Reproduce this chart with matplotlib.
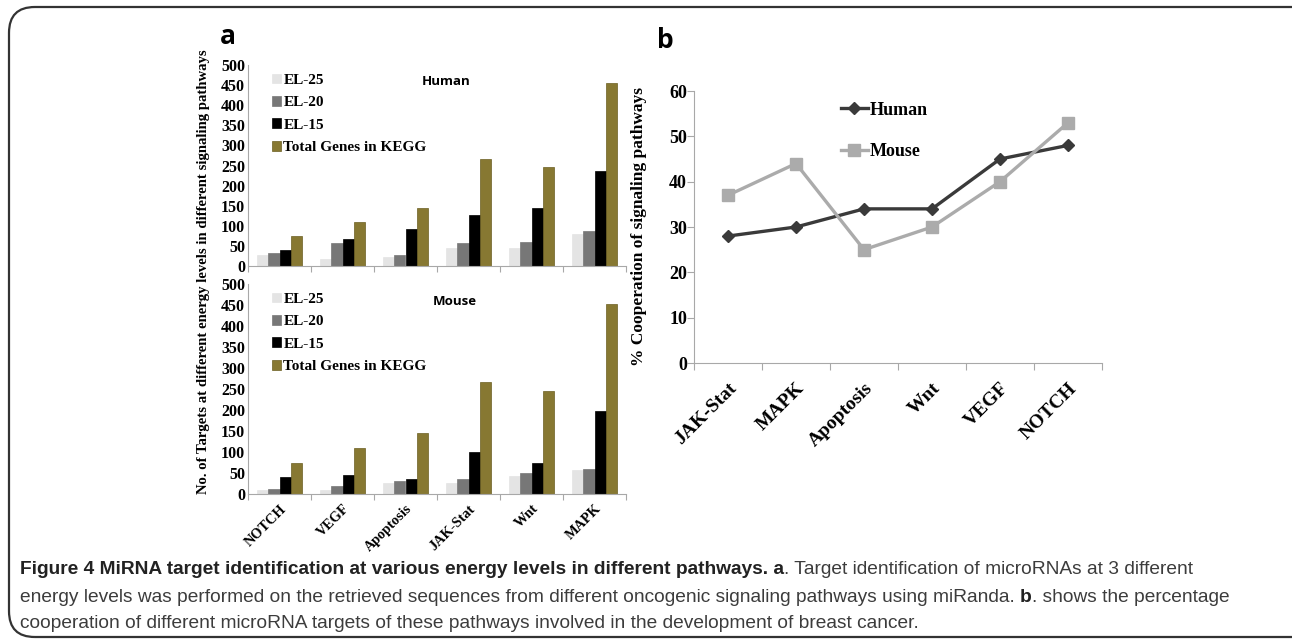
import numpy as np
import matplotlib
matplotlib.use('Agg')
import matplotlib.pyplot as plt
from matplotlib.patches import FancyBboxPatch

# panel a data
paths_a = ['NOTCH', 'VEGF', 'Apoptosis', 'JAK-Stat', 'Wnt', 'MAPK']
series = ['EL-25', 'EL-20', 'EL-15', 'Total Genes in KEGG']
human_el25 = [28, 18, 22, 45, 46, 80]
human_el20 = [33, 58, 28, 57, 60, 86]
human_el15 = [40, 67, 92, 126, 144, 237]
human_total = [75, 110, 145, 266, 247, 454]
mouse_el25 = [10, 10, 27, 26, 44, 57]
mouse_el20 = [13, 18, 30, 35, 50, 60]
mouse_el15 = [40, 45, 36, 99, 73, 197]
mouse_total = [75, 110, 145, 266, 246, 452]

# panel b data
paths_b = ['JAK-Stat', 'MAPK', 'Apoptosis', 'Wnt', 'VEGF', 'NOTCH']
coop_human = [28, 30, 34, 34, 45, 48]
coop_mouse = [37, 44, 25, 30, 40, 53]

bar_cols = ['#e4e4e4', '#777777', '#000000', '#877832']
spine_col = '#a8a8a8'
serif = ['Liberation Serif', 'DejaVu Serif']

W, H = 1292, 642
fig = plt.figure(figsize=(W / 100, H / 100), dpi=100)

# rounded border
fig.patches.append(FancyBboxPatch((9 / W, 5 / H), (W + 20) / W, 630 / H,
                                  boxstyle='round,pad=0,rounding_size=0.02',
                                  transform=fig.transFigure, fill=False,
                                  edgecolor='#333333', linewidth=1.6,
                                  mutation_aspect=W / H))


def fx(px):
  return px / W


def fy(py):
  return 1 - py / H


def bar_panel(ax, vals, title, tx):
  x = np.arange(len(paths_a))
  bw = 0.18
  for i, v in enumerate(vals):
    ax.bar(x + (i - 1.5) * bw, v, bw, color=bar_cols[i], label=series[i],
           edgecolor=bar_cols[i] if i != 3 else '#6b5e22', linewidth=0.5)
  ax.set_xlim(-0.5, len(paths_a) - 0.5)
  ax.set_ylim(0, 500)
  ax.set_yticks(range(0, 501, 50))
  for lab in ax.get_yticklabels():
    lab.set_family(serif)
    lab.set_fontweight('bold')
    lab.set_fontsize(11.5)
  ax.set_xticks(np.arange(-0.5, len(paths_a) - 0.4, 1))
  ax.set_xticklabels([])
  ax.tick_params(axis='x', length=4, color=spine_col)
  ax.tick_params(axis='y', length=0, pad=2)
  for s in ['top', 'right']:
    ax.spines[s].set_visible(False)
  for s in ['left', 'bottom']:
    ax.spines[s].set_color(spine_col)
  ax.legend(loc='upper left', frameon=False, handlelength=0.6, handleheight=0.6,
            handletextpad=0.15, labelspacing=0.6, borderaxespad=0.3,
            prop={'family': serif, 'weight': 'bold', 'size': 11},
            bbox_to_anchor=(0.035, 1.01))
  ax.text(tx, 0.9, title, transform=ax.transAxes, fontsize=9.5,
          fontweight='bold', family=['Open Sans', 'DejaVu Sans'])


ax_top = fig.add_axes([fx(248), fy(266), fx(378), (266 - 65) / H])
bar_panel(ax_top, [human_el25, human_el20, human_el15, human_total], 'Human', 0.46)

ax_bot = fig.add_axes([fx(248), fy(494), fx(378), (494 - 284) / H])
bar_panel(ax_bot, [mouse_el25, mouse_el20, mouse_el15, mouse_total], 'Mouse', 0.49)
ax_bot.set_xticks(np.arange(len(paths_a)), minor=True)
ax_bot.set_xticklabels(paths_a, minor=True, rotation=45, ha='right',
                       rotation_mode='anchor', family=serif, fontweight='bold',
                       fontsize=10.3)
ax_bot.tick_params(axis='x', which='minor', length=0, pad=6)

fig.text(fx(204), fy(272),
         'No. of Targets at different energy levels in different signaling pathways',
         rotation=90, ha='center', va='center', family=serif, fontweight='bold',
         fontsize=10.6)
fig.text(fx(228), fy(36), 'a', ha='center', va='center', fontsize=19,
         fontweight='bold', family=['Open Sans', 'DejaVu Sans'])

# panel b
ax_b = fig.add_axes([fx(694), fy(363), fx(408), (363 - 91) / H])
xb = np.arange(len(paths_b))
ax_b.plot(xb, coop_human, color='#3a3a3a', marker='D', markersize=6.5,
          linewidth=2.4, label='Human')
ax_b.plot(xb, coop_mouse, color='#ababab', marker='s', markersize=8,
          linewidth=2.4, label='Mouse')
ax_b.set_xlim(-0.5, len(paths_b) - 0.5)
ax_b.set_ylim(0, 60)
ax_b.set_yticks(range(0, 61, 10))
ax_b.set_xticks(np.arange(-0.5, len(paths_b) - 0.4, 1))
ax_b.set_xticklabels([])
ax_b.set_xticks(xb, minor=True)
ax_b.set_xticklabels(paths_b, minor=True, rotation=45, ha='right',
                     rotation_mode='anchor', family=serif, fontweight='bold',
                     fontsize=14)
ax_b.tick_params(axis='x', which='minor', length=0, pad=12)
ax_b.tick_params(axis='x', which='major', length=5, color=spine_col)
ax_b.tick_params(axis='y', length=5, color=spine_col, pad=0)
for lab in ax_b.get_yticklabels():
  lab.set_family(serif)
  lab.set_fontweight('bold')
  lab.set_fontsize(13)
for s in ['top', 'right']:
  ax_b.spines[s].set_visible(False)
for s in ['left', 'bottom']:
  ax_b.spines[s].set_color(spine_col)
ax_b.legend(loc='upper left', bbox_to_anchor=(0.32, 1.02), frameon=False,
            handlelength=1.5, handletextpad=0.1, labelspacing=1.35,
            prop={'family': serif, 'weight': 'bold', 'size': 13})
ax_b.set_ylabel('% Cooperation of signaling pathways', family=serif,
                fontweight='bold', fontsize=12.5, labelpad=16)
fig.text(fx(665), fy(40), 'b', ha='center', va='center', fontsize=19,
         fontweight='bold', family=['Open Sans', 'DejaVu Sans'])

# caption
cap_font = ['Liberation Sans Narrow', 'Liberation Sans', 'DejaVu Sans']
cap_lines = [
  [('Figure 4 MiRNA target identification at various energy levels in different pathways. a', True),
   ('. Target identification of microRNAs at 3 different', False)],
  [('energy levels was performed on the retrieved sequences from different oncogenic signaling pathways using miRanda. ', False),
   ('b', True), ('. shows the percentage', False)],
  [('cooperation of different microRNA targets of these pathways involved in the development of breast cancer.', False)],
]
cap_y = [569, 597, 624]
renderer = fig.canvas.get_renderer()
for segs, yy in zip(cap_lines, cap_y):
  xpos = 20
  for txt, bold in segs:
    t = fig.text(fx(xpos), fy(yy), txt, ha='left', va='center', fontsize=13.8,
                 family=cap_font, fontweight='bold' if bold else 'normal',
                 color='#222222' if bold else '#3c3c3c')
    xpos += t.get_window_extent(renderer).width

fig.savefig('out.png', dpi=100)
